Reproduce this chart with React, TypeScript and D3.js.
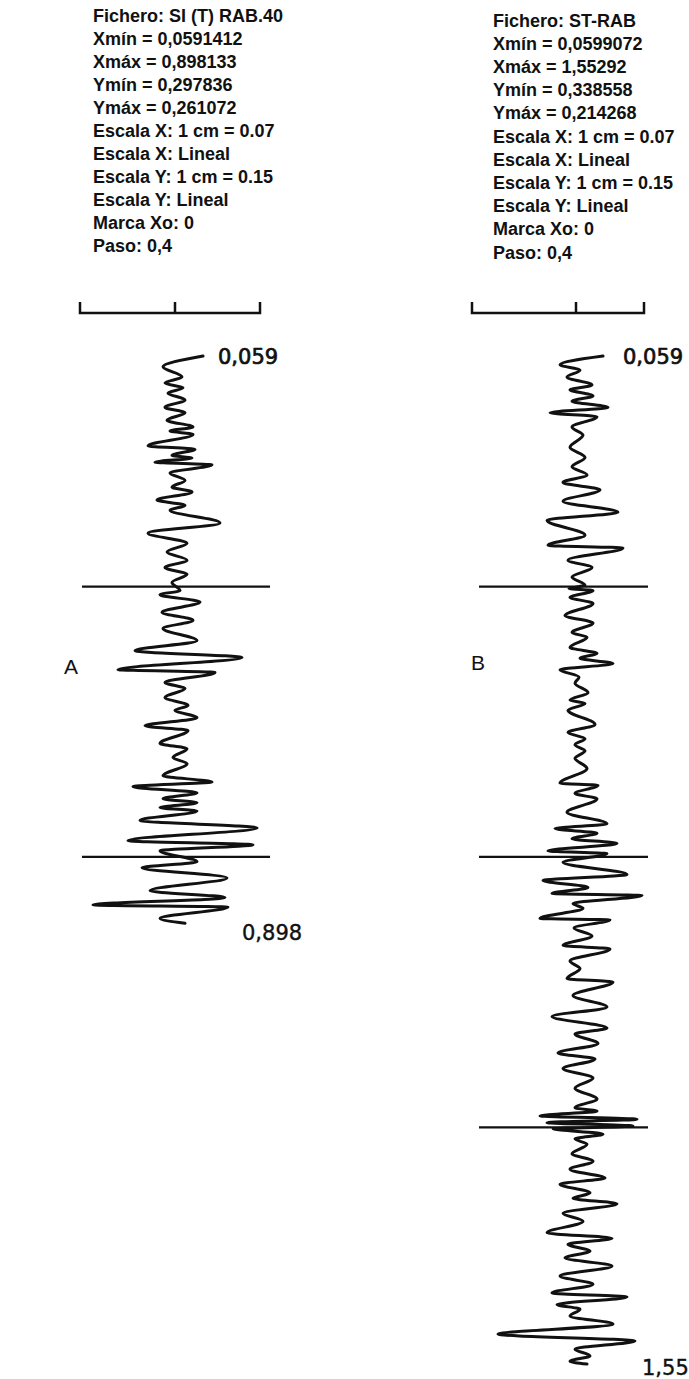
import React, { useEffect, useRef } from 'react';
import * as d3 from 'd3';

// header lines of each record
const infoA = [
  'Fichero: SI (T) RAB.40',
  'Xmín = 0,0591412',
  'Xmáx = 0,898133',
  'Ymín = 0,297836',
  'Ymáx = 0,261072',
  'Escala X: 1 cm = 0.07',
  'Escala X: Lineal',
  'Escala Y: 1 cm = 0.15',
  'Escala Y: Lineal',
  'Marca Xo: 0',
  'Paso: 0,4',
];
const infoB = [
  'Fichero: ST-RAB',
  'Xmín = 0,0599072',
  'Xmáx = 1,55292',
  'Ymín = 0,338558',
  'Ymáx = 0,214268',
  'Escala X: 1 cm = 0.07',
  'Escala X: Lineal',
  'Escala Y: 1 cm = 0.15',
  'Escala Y: Lineal',
  'Marca Xo: 0',
  'Paso: 0,4',
];

// trace extremes: [time, amplitude]
const traceA: [number, number][] = [
  [0.059, 0.108], [0.075, -0.052], [0.090, 0.024], [0.099, -0.044], [0.106, 0.028],
  [0.114, -0.032], [0.124, 0.036], [0.135, -0.044], [0.143, 0.036], [0.154, -0.036],
  [0.164, 0.068], [0.170, -0.024], [0.175, 0.068], [0.192, -0.112], [0.197, 0.076],
  [0.206, -0.016], [0.210, 0.064], [0.216, -0.084], [0.220, 0.144], [0.232, -0.024],
  [0.243, 0.036], [0.253, -0.016], [0.260, 0.064], [0.272, -0.076], [0.280, 0.036],
  [0.287, -0.024], [0.306, 0.176], [0.321, -0.112], [0.336, 0.044], [0.349, -0.036],
  [0.361, 0.044], [0.372, -0.044], [0.382, 0.044], [0.394, -0.016], [0.406, 0.016],
  [0.412, -0.064], [0.423, 0.096], [0.438, -0.056], [0.450, 0.068], [0.462, -0.052],
  [0.480, 0.084], [0.495, -0.164], [0.505, 0.264], [0.523, -0.232], [0.527, 0.156],
  [0.542, -0.044], [0.551, 0.036], [0.564, -0.044], [0.576, 0.048], [0.583, -0.004],
  [0.594, 0.084], [0.606, -0.124], [0.613, 0.048], [0.632, -0.064], [0.640, 0.044],
  [0.653, -0.012], [0.662, 0.044], [0.680, -0.052], [0.689, 0.144], [0.696, -0.172],
  [0.705, 0.084], [0.714, -0.052], [0.720, 0.084], [0.727, -0.064], [0.732, 0.084],
  [0.746, -0.144], [0.757, 0.324], [0.776, -0.192], [0.782, 0.308], [0.791, -0.064],
  [0.807, 0.084], [0.816, -0.136], [0.831, 0.204], [0.850, -0.104], [0.860, 0.196],
  [0.871, -0.332], [0.874, 0.208], [0.891, -0.064], [0.898, 0.036],
];

const traceB: [number, number][] = [
  [0.059, 0.104], [0.072, -0.068], [0.080, 0.012], [0.090, -0.040], [0.102, 0.060],
  [0.109, -0.028], [0.118, 0.064], [0.126, -0.020], [0.135, 0.124], [0.143, -0.108],
  [0.149, 0.080], [0.164, -0.020], [0.176, 0.024], [0.194, -0.028], [0.209, 0.032],
  [0.223, -0.020], [0.235, 0.040], [0.246, -0.056], [0.257, 0.092], [0.274, -0.056],
  [0.290, 0.164], [0.302, -0.120], [0.324, 0.032], [0.339, -0.116], [0.343, 0.184],
  [0.361, -0.036], [0.372, 0.060], [0.386, -0.020], [0.398, 0.032], [0.403, -0.032],
  [0.406, 0.064], [0.416, -0.028], [0.425, 0.064], [0.443, -0.048], [0.454, 0.064],
  [0.468, -0.020], [0.475, 0.040], [0.490, -0.028], [0.499, 0.080], [0.506, 0.012],
  [0.514, 0.144], [0.523, -0.068], [0.534, 0.008], [0.543, -0.008], [0.557, 0.044],
  [0.568, -0.028], [0.573, 0.032], [0.583, -0.036], [0.604, 0.072], [0.616, -0.036],
  [0.625, 0.032], [0.634, -0.008], [0.643, 0.032], [0.654, -0.008], [0.669, 0.040],
  [0.691, -0.068], [0.694, 0.084], [0.706, -0.008], [0.714, 0.080], [0.734, -0.040],
  [0.751, 0.120], [0.758, -0.088], [0.765, 0.080], [0.773, -0.020], [0.780, 0.160],
  [0.791, -0.116], [0.795, 0.120], [0.808, -0.056], [0.826, 0.200], [0.835, -0.136],
  [0.845, 0.044], [0.854, -0.100], [0.857, 0.260], [0.869, -0.016], [0.876, 0.024],
  [0.891, -0.148], [0.893, 0.132], [0.905, -0.012], [0.917, 0.060], [0.931, -0.056],
  [0.936, 0.132], [0.954, -0.028], [0.965, 0.012], [0.980, -0.040], [0.985, 0.144],
  [1.005, -0.016], [1.022, 0.120], [1.036, -0.100], [1.053, 0.120], [1.062, -0.008],
  [1.076, 0.084], [1.090, -0.076], [1.099, 0.072], [1.113, -0.056], [1.127, 0.064],
  [1.142, -0.008], [1.158, 0.080], [1.171, -0.008], [1.176, 0.080], [1.183, -0.148],
  [1.188, 0.240], [1.193, -0.120], [1.198, 0.224], [1.202, -0.096], [1.210, 0.104],
  [1.217, -0.008], [1.225, 0.040], [1.239, -0.020], [1.250, 0.064], [1.262, -0.028],
  [1.275, 0.112], [1.284, -0.068], [1.297, 0.052], [1.305, -0.016], [1.313, 0.160],
  [1.327, -0.056], [1.339, 0.024], [1.356, -0.120], [1.364, 0.140], [1.373, -0.036],
  [1.383, 0.052], [1.393, -0.048], [1.405, 0.140], [1.420, -0.068], [1.432, 0.064],
  [1.445, -0.100], [1.451, 0.200], [1.462, -0.080], [1.469, 0.012], [1.479, -0.028],
  [1.491, 0.144], [1.506, -0.316], [1.516, 0.232], [1.528, -0.008], [1.538, 0.052],
  [1.546, -0.028], [1.550, 0.040],
];

const startLabels = ['0,059', '0,059'];
const endLabels = ['0,898', '1,55'];
const panelLetters = ['A', 'B'];
const markStep = 0.4;

const W = 689;
const H = 1379;

const App = () => {
  const svgRef = useRef<SVGSVGElement>(null);

  useEffect(() => {
    const svg = d3.select(svgRef.current);
    svg.selectAll('*').remove();

    const ink = '#111';

    // shared time axis (vertical)
    const yScale = d3.scaleLinear().domain([0.059, 1.55]).range([356, 1364]);

    const panels = [
      { info: infoA, data: traceA, center: 176, textX: 93, textY: 22, textStep: 23,
        bar: [80, 175, 260], marks: [82, 270], startX: 218, endX: 242, letterX: 64, letterY: 674 },
      { info: infoB, data: traceB, center: 577, textX: 493, textY: 26.5, textStep: 23.2,
        bar: [472, 576, 644], marks: [479, 648], startX: 623, endX: 642, letterX: 471, letterY: 670 },
    ];

    panels.forEach((p, i) => {
      const g = svg.append('g');

      // header text
      g.selectAll('text.info')
        .data(p.info)
        .enter()
        .append('text')
        .attr('class', 'info')
        .attr('x', p.textX)
        .attr('y', (d, k) => p.textY + k * p.textStep)
        .attr('font-family', '"Liberation Sans", Arial, sans-serif')
        .attr('font-weight', 'bold')
        .attr('font-size', 18)
        .attr('fill', ink)
        .text(d => d);

      // amplitude scale
      const xScale = d3.scaleLinear().domain([-0.3, 0.3]).range([p.center - 75, p.center + 75]);

      // scale bar
      const barY = 313;
      g.append('path')
        .attr('d', `M${p.bar[0]},${barY - 11}V${barY}H${p.bar[2]}V${barY - 11}M${p.bar[1]},${barY}V${barY - 11}`)
        .attr('fill', 'none')
        .attr('stroke', ink)
        .attr('stroke-width', 2.5);

      const tEnd = p.data[p.data.length - 1][0];
      const tStart = p.data[0][0];

      // time marks every 0,4
      const marks = d3.range(markStep, tEnd, markStep);
      g.selectAll('line.mark')
        .data(marks)
        .enter()
        .append('line')
        .attr('class', 'mark')
        .attr('x1', p.marks[0])
        .attr('x2', p.marks[1])
        .attr('y1', d => yScale(d))
        .attr('y2', d => yScale(d))
        .attr('stroke', ink)
        .attr('stroke-width', 2.2);

      // the trace
      const line = d3.line<[number, number]>()
        .x(d => xScale(d[1]))
        .y(d => yScale(d[0]))
        .curve(d3.curveMonotoneY);

      g.append('path')
        .datum(p.data)
        .attr('d', line)
        .attr('fill', 'none')
        .attr('stroke', ink)
        .attr('stroke-width', 3)
        .attr('stroke-linejoin', 'round')
        .attr('stroke-linecap', 'round');

      // start / end labels
      const numFont = '"DejaVu Sans", Verdana, sans-serif';
      g.append('text')
        .attr('x', p.startX)
        .attr('y', yScale(tStart) + 8)
        .attr('font-family', numFont)
        .attr('font-size', 21)
        .attr('fill', ink)
        .attr('stroke', ink)
        .attr('stroke-width', 0.7)
        .text(startLabels[i]);

      g.append('text')
        .attr('x', p.endX)
        .attr('y', yScale(tEnd) + (i === 0 ? 17 : 11))
        .attr('font-family', numFont)
        .attr('font-size', 21)
        .attr('fill', ink)
        .attr('stroke', ink)
        .attr('stroke-width', 0.4)
        .text(endLabels[i]);

      g.append('text')
        .attr('x', p.letterX)
        .attr('y', p.letterY)
        .attr('font-family', '"Liberation Sans", Arial, sans-serif')
        .attr('font-size', 21)
        .attr('fill', ink)
        .text(panelLetters[i]);
    });
  }, []);

  return (
    <svg
      ref={svgRef}
      width={W}
      height={H}
      style={{ position: 'absolute', left: 0, top: 0, display: 'block', background: '#fff' }}
    />
  );
};

export default App;
